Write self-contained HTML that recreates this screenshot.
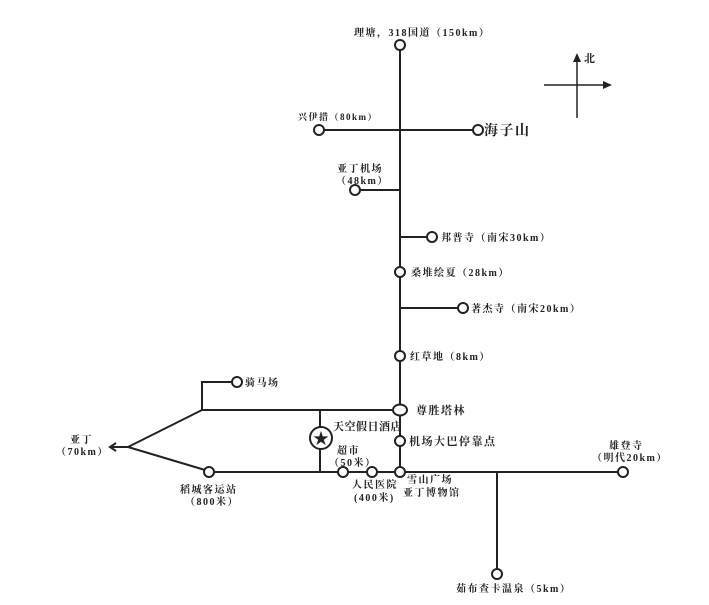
<!DOCTYPE html>
<html><head><meta charset="utf-8"><style>
html,body{margin:0;padding:0;background:#fff;}
svg text{font-family:"Liberation Serif","Noto Serif CJK SC",serif;font-weight:bold;fill:#222;letter-spacing:1.5px;}
</style></head><body>
<svg width="709" height="600" viewBox="0 0 709 600" xmlns="http://www.w3.org/2000/svg">
<g stroke="#222" stroke-width="2" fill="none">
<line x1="400" y1="50" x2="400" y2="472"/>
<line x1="324" y1="130" x2="473" y2="130"/>
<line x1="360" y1="190" x2="400" y2="190"/>
<line x1="400" y1="237" x2="427" y2="237"/>
<line x1="400" y1="308" x2="458" y2="308"/>
<line x1="202" y1="410" x2="392" y2="410"/>
<polyline points="202,410 202,382 232,382"/>
<line x1="320" y1="410" x2="320" y2="472"/>
<line x1="214" y1="472" x2="618" y2="472"/>
<line x1="128" y1="447" x2="202" y2="410"/>
<line x1="128" y1="447" x2="205" y2="470"/>
<line x1="110" y1="447" x2="128" y2="447"/>
<polyline points="116,443 110,447 116,451"/>
<line x1="497" y1="472" x2="497" y2="569"/>
<line x1="577" y1="60" x2="577" y2="118" stroke-width="1.5"/>
<line x1="544" y1="85" x2="606" y2="85" stroke-width="1.5"/>
</g>
<polygon points="577,53 573,62 581,62" fill="#222"/>
<polygon points="612,85 603,81 603,89" fill="#222"/>
<g stroke="#222" stroke-width="2" fill="#fff">
<circle cx="400" cy="45" r="5"/>
<circle cx="319" cy="130" r="5"/>
<circle cx="478" cy="130" r="5"/>
<circle cx="355" cy="190" r="5"/>
<circle cx="432" cy="237" r="5"/>
<circle cx="400" cy="272" r="5"/>
<circle cx="463" cy="308" r="5"/>
<circle cx="400" cy="356" r="5"/>
<ellipse cx="400" cy="410" rx="7" ry="5.5"/>
<circle cx="400" cy="441" r="5"/>
<circle cx="400" cy="472" r="5"/>
<circle cx="372" cy="472" r="5"/>
<circle cx="343" cy="472" r="5"/>
<circle cx="209" cy="472" r="5"/>
<circle cx="623" cy="472" r="5"/>
<circle cx="497" cy="574" r="5"/>
<circle cx="237" cy="382" r="5"/>
<circle cx="321" cy="438" r="11"/>
</g>
<text x="321" y="444" font-size="16" text-anchor="middle" fill="#222" style="letter-spacing:0">★</text>
<g font-size="10">
<text x="354" y="36">理塘，318国道（150km）</text>
<text x="298" y="120" font-size="9">兴伊措（80km）</text>
<text x="484" y="135" font-size="14">海子山</text>
<text x="337" y="172">亚丁机场</text>
<text x="336" y="184">（48km）</text>
<text x="441" y="241">邦普寺（南宋30km）</text>
<text x="411" y="276">桑堆绘夏（28km）</text>
<text x="471" y="312">著杰寺（南宋20km）</text>
<text x="410" y="360">红草地（8km）</text>
<text x="416" y="414" font-size="11">尊胜塔林</text>
<text x="409" y="445" font-size="11">机场大巴停靠点</text>
<text x="333" y="430" font-size="11" style="letter-spacing:0.5px">天空假日酒店</text>
<text x="337" y="454">超市</text>
<text x="329" y="466">（50米）</text>
<text x="245" y="386">骑马场</text>
<text x="70" y="443">亚丁</text>
<text x="56" y="455">（70km）</text>
<text x="180" y="493">稻城客运站</text>
<text x="185" y="505">（800米）</text>
<text x="352" y="488">人民医院</text>
<text x="354" y="501">(400米)</text>
<text x="407" y="483">雪山广场</text>
<text x="403" y="496">亚丁博物馆</text>
<text x="609" y="449">雄登寺</text>
<text x="592" y="461">（明代20km）</text>
<text x="456" y="592">茹布查卡温泉（5km）</text>
<text x="584" y="62" font-size="11">北</text>
</g>
</svg>
</body></html>
